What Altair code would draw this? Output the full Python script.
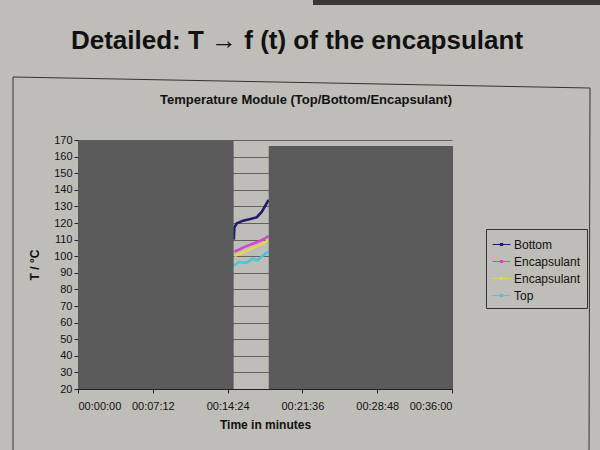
import altair as alt
import pandas as pd

# ---- data ----
series_keys = ["Bottom", "Enc1", "Enc2", "Top"]
series_labels = ["Bottom", "Encapsulant", "Encapsulant", "Top"]
series_colors = ["#1c1c74", "#d048d0", "#e4d452", "#48c6da"]

bottom_min = [15.0, 15.05, 15.3, 15.9, 16.5, 17.2, 17.7, 18.35]
bottom_T = [110.0, 117.5, 119.8, 121.4, 122.3, 123.4, 126.8, 133.9]

enc1_min = [15.05, 16.0, 17.0, 17.8, 18.35]
enc1_T = [102.7, 105.5, 108.0, 110.0, 112.2]

enc2_min = [15.05, 16.0, 17.0, 17.8, 18.35]
enc2_T = [100.1, 102.5, 105.5, 107.5, 109.8]

top_min = [0.0, 15.05, 15.5, 16.2, 16.8, 17.3, 17.8, 18.35]
top_T = [33.0, 94.7, 96.5, 96.0, 98.5, 97.5, 100.5, 102.7]

# masked (covered) regions of the plot, in minutes / degC
mask_start = [0.0, 18.36]
mask_end = [14.98, 36.1]
mask_low = [20.0, 20.0]
mask_high = [169.5, 166.4]

y_ticks = list(range(20, 171, 10))
x_ticks_sec = [0, 432, 864, 1296, 1728, 2160]

slide_title = "Detailed: T \u2192 f (t) of the encapsulant"
chart_title = "Temperature Module (Top/Bottom/Encapsulant)"

# ---- build tables ----
rows = []
for key, mins, temps in zip(series_keys,
                            [bottom_min, enc1_min, enc2_min, top_min],
                            [bottom_T, enc1_T, enc2_T, top_T]):
    for m, t in zip(mins, temps):
        rows.append({"series": key, "sec": m * 60.0, "T": t})
df = pd.DataFrame(rows)

mask_df = pd.DataFrame({
    "x0": [m * 60 for m in mask_start],
    "x1": [m * 60 for m in mask_end],
    "y0": mask_low,
    "y1": mask_high,
})

FONT = "Liberation Sans"
BG = "#bebdb8"

xscale = alt.Scale(domain=[0, 2160], nice=False, zero=False)
yscale = alt.Scale(domain=[20, 170], nice=False, zero=False)

x_axis = alt.Axis(values=x_ticks_sec, grid=False, labelOverlap=False,
                  labelExpr="utcFormat(datum.value*1000, '%H:%M:%S')",
                  title="Time in minutes", titleFontWeight="bold",
                  titleFontSize=12, titlePadding=8, labelPadding=7,
                  tickSize=4, labelFontSize=11, domainColor="#222",
                  tickColor="#222", labelColor="#111", titleColor="#111",
                  labelFont=FONT, titleFont=FONT)
y_axis = alt.Axis(values=y_ticks, grid=True, gridColor="#4a4a4a",
                  gridWidth=0.8, title="T / \u00b0C", titleFontWeight="bold",
                  titleFontSize=12, titlePadding=12, labelFontSize=11,
                  labelOverlap=False, labelFlush=False,
                  tickSize=4, domainColor="#222", tickColor="#222",
                  labelColor="#111", titleColor="#111",
                  labelFont=FONT, titleFont=FONT)

label_expr = ("datum.value == 'Enc1' || datum.value == 'Enc2' ? 'Encapsulant' : datum.value")

lines = alt.Chart(df).mark_line(strokeWidth=2.6, clip=False).encode(
    x=alt.X("sec:Q", scale=xscale, axis=x_axis),
    y=alt.Y("T:Q", scale=yscale, axis=y_axis),
    color=alt.Color("series:N",
                    scale=alt.Scale(domain=series_keys, range=series_colors),
                    legend=alt.Legend(title=None, orient="none", legendX=408, legendY=89,
                                      labelExpr=label_expr, labelFontSize=12,
                                      labelFont=FONT, labelColor="#111",
                                      symbolType="M-1,0L1,0M-0.12,-0.12L0.12,-0.12L0.12,0.12L-0.12,0.12Z",
                                      symbolSize=320, symbolStrokeWidth=1.1,
                                      rowPadding=1, padding=6, strokeColor="#333",
                                      labelOffset=3)),
    detail="series:N",
    order="sec:Q",
)

masks = alt.Chart(mask_df).mark_rect(color="#5a5a5a", opacity=1).encode(
    x=alt.X("x0:Q", scale=xscale, axis=x_axis), x2="x1:Q",
    y=alt.Y("y0:Q", scale=yscale, axis=y_axis), y2="y1:Q",
)

title_df = pd.DataFrame({"t": [slide_title]})
slide_text = alt.Chart(title_df).mark_text(
    font=FONT, fontSize=26, fontWeight="bold", color="#111", align="center",
    baseline="alphabetic").encode(text="t:N", x=alt.value(219), y=alt.value(-91))

ctitle_df = pd.DataFrame({"t": [chart_title]})
chart_text = alt.Chart(ctitle_df).mark_text(
    font=FONT, fontSize=13, fontWeight="bold", color="#111", align="center",
    baseline="alphabetic").encode(text="t:N", x=alt.value(228), y=alt.value(-36))

frame_df = pd.DataFrame({"k": [1]})
frame_top = alt.Chart(frame_df).mark_rule(color="#333", strokeWidth=1).encode(
    x=alt.value(-65), x2=alt.value(512), y=alt.value(-63), y2=alt.value(-52))
frame_left = alt.Chart(frame_df).mark_rule(color="#333", strokeWidth=1).encode(
    x=alt.value(-65), x2=alt.value(-65), y=alt.value(-63), y2=alt.value(320))
frame_right = alt.Chart(frame_df).mark_rule(color="#333", strokeWidth=1).encode(
    x=alt.value(512), x2=alt.value(511), y=alt.value(-52), y2=alt.value(320))
top_band = alt.Chart(frame_df).mark_rect(color="#3a3632").encode(
    x=alt.value(235), x2=alt.value(530), y=alt.value(-145), y2=alt.value(-135))

chart = alt.layer(
    top_band, frame_top, frame_left, frame_right, lines, masks, slide_text, chart_text
).properties(
    width=374, height=249,
    background=BG,
    padding={"left": 78, "top": 140, "right": 148, "bottom": 61},
    autosize=alt.AutoSizeParams(type="none"),
).configure_view(stroke=None).configure_axis(domainWidth=1)

chart.save("out.html", embed_options={"renderer": "svg", "actions": False})
